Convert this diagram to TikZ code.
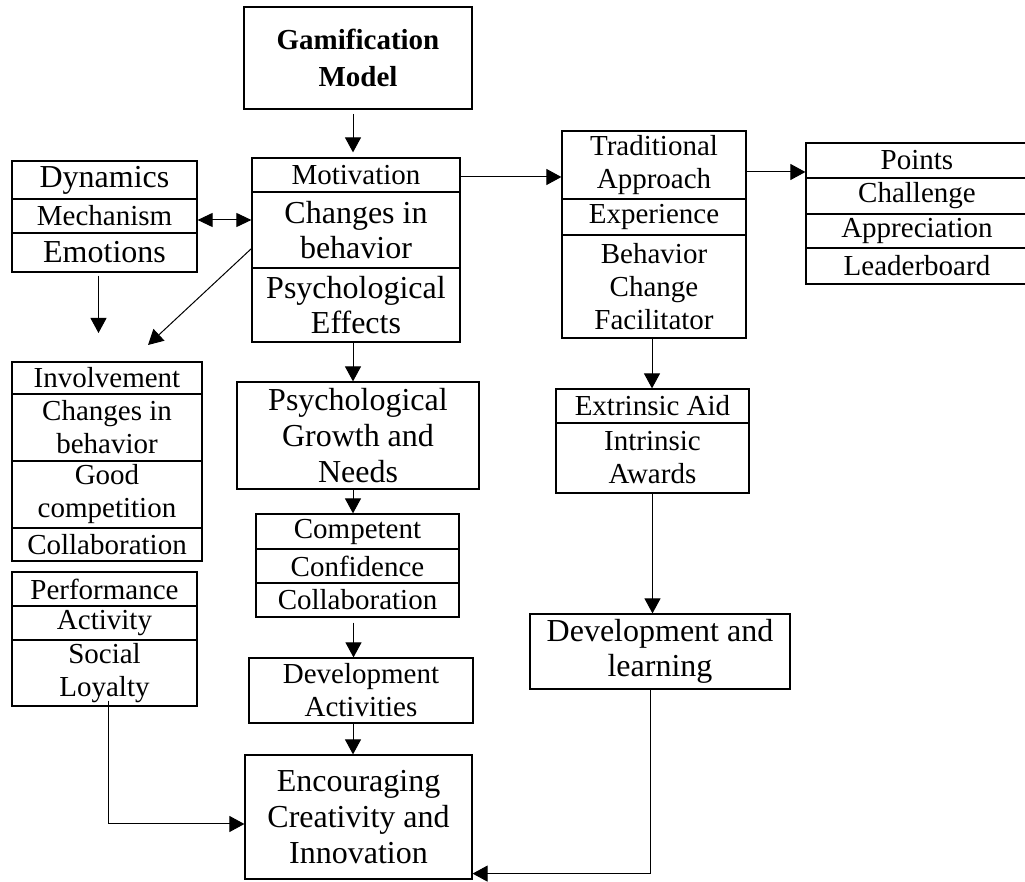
\documentclass[tikz,border=0pt]{standalone}
\usepackage{fontspec}
\setmainfont{Liberation Serif}
\usetikzlibrary{arrows.meta}

\begin{document}
\begin{tikzpicture}[x=0.5pt,y=-0.5pt,
	cell/.style={draw,line width=0.6pt,align=center,inner sep=0pt,font=\fontsize{14.5}{16.5}\selectfont},
	bigcell/.style={cell,font=\fontsize{16}{17.8}\selectfont},
	arr/.style={line width=0.5pt,-{Triangle[length=7.5pt,width=8pt]}},
	twoarr/.style={line width=0.5pt,{Triangle[length=7.5pt,width=7pt]}-{Triangle[length=7.5pt,width=7pt]}}]
	\useasboundingbox (0,0) rectangle (1025,882);
	
	\node[cell,line width=1pt,font=\fontsize{14.5}{18.5}\selectfont\bfseries,minimum width=114pt,minimum height=51pt] (gam) at (358,58) {Gamification\\Model};
	
	\node[cell,minimum width=104pt,minimum height=17pt] (mot) at (356,175) {Motivation};
	\node[bigcell,minimum width=104pt,minimum height=38pt] (chg) at (356,230) {Changes in\\behavior};
	\node[bigcell,minimum width=104pt,minimum height=37pt] (psy) at (356,305) {Psychological\\Effects};
	
	\node[bigcell,minimum width=92.5pt,minimum height=19pt] (dyn) at (104.5,180) {Dynamics};
	\node[cell,minimum width=92.5pt,minimum height=17pt] (mech) at (104.5,216) {Mechanism};
	\node[bigcell,minimum width=92.5pt,minimum height=19.5pt] (emo) at (104.5,252.5) {Emotions};
	
	\node[cell,minimum width=92pt,minimum height=34pt] (trad) at (654,165) {Traditional\\Approach};
	\node[cell,minimum width=92pt,minimum height=18pt] (exp) at (654,217) {Experience};
	\node[cell,minimum width=92pt,minimum height=51.5pt] (beh) at (654,286.5) {Behavior\\Change\\Facilitator};
	
	\node[cell,minimum width=111pt,minimum height=17.5pt] (pts) at (917,160.5) {Points};
	\node[cell,minimum width=111pt,minimum height=18pt] (chal) at (917,196) {Challenge};
	\node[cell,minimum width=111pt,minimum height=17pt] (appr) at (917,231) {Appreciation};
	\node[cell,minimum width=111pt,minimum height=18pt] (lead) at (917,266) {Leaderboard};
	
	\node[cell,minimum width=96.5pt,minimum height=17pt] (ext) at (652.5,406) {Extrinsic Aid};
	\node[cell,minimum width=96.5pt,minimum height=35pt] (intr) at (652.5,458) {Intrinsic\\Awards};
	
	\node[bigcell,minimum width=130pt,minimum height=37.5pt] (dl) at (660,651.5) {Development and\\learning};
	
	\node[cell,minimum width=95pt,minimum height=16pt] (inv) at (107,378) {Involvement};
	\node[cell,minimum width=95pt,minimum height=33.5pt] (chgb) at (107,427.5) {Changes in\\behavior};
	\node[cell,minimum width=95pt,minimum height=33.5pt] (good) at (107,494.5) {Good\\competition};
	\node[cell,minimum width=95pt,minimum height=16.5pt] (coll) at (107,544.5) {Collaboration};
	
	\node[cell,minimum width=92.5pt,minimum height=17pt] (perf) at (104.5,589) {Performance};
	\node[cell,minimum width=92.5pt,minimum height=17pt] (act) at (104.5,623) {Activity};
	\node[cell,minimum width=92.5pt,minimum height=33pt] (soc) at (104.5,673) {Social\\Loyalty};
	
	\node[bigcell,minimum width=121pt,minimum height=53.5pt] (grow) at (358,435.5) {Psychological\\Growth and\\Needs};
	
	\node[cell,minimum width=101.5pt,minimum height=17.5pt] (comp) at (357.5,531.5) {Competent};
	\node[cell,minimum width=101.5pt,minimum height=17pt] (conf) at (357.5,566) {Confidence};
	\node[cell,minimum width=101.5pt,minimum height=17pt] (collb) at (357.5,600) {Collaboration};
	
	\node[cell,minimum width=112pt,minimum height=32.5pt] (dact) at (361,690.5) {Development\\Activities};
	
	\node[bigcell,minimum width=113.5pt,minimum height=62pt] (enc) at (358.5,817) {Encouraging\\Creativity and\\Innovation};
	
	\coordinate (emoend) at (98.5,333);
	\coordinate (diagend) at (148,345);
	
	\draw[arr,shorten <=2pt,shorten >=2.5pt] ([xshift=-2.5pt]gam.south) -- ([xshift=-2.5pt]gam.south |- mot.north);
	\draw[twoarr] ([yshift=-2pt]mech.east) -- ([yshift=-2pt]mech.east -| chg.west);
	\draw[arr] ([xshift=-3pt,yshift=-1.5pt]emo.south) -- (emoend);
	\draw[arr] ([yshift=10pt]chg.south west) -- (diagend);
	\draw[arr] ([yshift=-1pt]mot.east) -- ([yshift=-1pt]mot.east -| trad.west);
	\draw[arr] ([yshift=-3.5pt]trad.east) -- ([yshift=-3.5pt]trad.east -| pts.west);
	\draw[arr] ([xshift=-1pt]beh.south) -- ([xshift=-1pt]beh.south |- ext.north);
	\draw[arr] (intr.south) -- (intr.south |- dl.north);
	\draw[arr] ([xshift=-5pt]dl.south) |- ([yshift=3pt]enc.south east);
	\draw[arr] ([xshift=2pt,yshift=3pt]soc.south) |- ([yshift=-3.5pt]enc.west);
	\draw[arr] ([xshift=-1.5pt]psy.south) -- ([xshift=-1.5pt]psy.south |- grow.north);
	\draw[arr] ([xshift=-2.5pt]grow.south) -- ([xshift=-2.5pt]grow.south |- comp.north);
	\draw[arr,shorten <=2.5pt] ([xshift=-2pt]collb.south) -- ([xshift=-2pt]collb.south |- dact.north);
	\draw[arr] ([xshift=-4pt]dact.south) -- ([xshift=-4pt]dact.south |- enc.north);
\end{tikzpicture}
\end{document}
